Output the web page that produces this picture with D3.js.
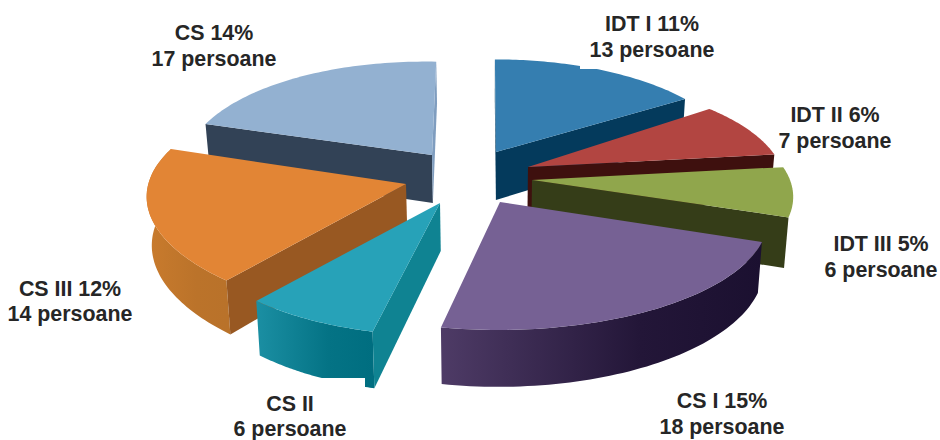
<!DOCTYPE html>
<html>
<head>
<meta charset="utf-8">
<script src="https://cdn.jsdelivr.net/npm/d3@7"></script>
<style>
  html, body { margin: 0; padding: 0; background: #fff; }
  svg { display: block; }
  text { font-family: "Liberation Sans", Arial, sans-serif; font-weight: bold; font-size: 21.4px; fill: #262626; text-anchor: middle; }
</style>
</head>
<body>
<svg id="chart" width="940" height="440"></svg>
<script>
// Staff counts per academic grade, clockwise from twelve o'clock.
const categories = ["IDT I", "IDT II", "IDT III", "CS I", "CS II", "CS III", "CS"];
const persons    = [13, 7, 6, 18, 6, 14, 17];
const percents   = [11, 6, 5, 15, null, 12, 14];

// Look of each wedge: top face, outer wall gradient (left, right), the two cut faces.
const topColors   = ["#357eb0", "#b24541", "#90a64c", "#766194", "#27a2b8", "#e28535", "#93b1d1"];
const wallLeft    = ["#043a5c", "#3e100e", "#353d18", "#4e3b66", "#1b8fa3", "#c97b2d", "#324256"];
const wallRight   = ["#043a5c", "#3e100e", "#353d18", "#1b1030", "#006e80", "#b9722a", "#324256"];
const cutStart    = ["#043a5c", "#3e100e", "#353d18", "#2a1b43", "#0f8392", "#985822", "#324256"];
const cutEnd      = ["#043a5c", "#3e100e", "#353d18", "#2a1b43", "#0f8392", "#985822", "#7f9dbf"];
const wallShown   = [false, false, false, true, true, true, false];

// Exploded placement of each wedge on the page: hub position, radii, twist (deg), shear, rim swell.
const hubX  = [496, 528, 532, 500, 440, 406, 432];
const hubY  = [152, 167, 180, 202, 203, 184, 155];
const radX  = [243, 253, 258, 265, 253, 250, 246];
const radY  = [107, 103, 106, 108, 112, 122, 108];
const twist = [-0.3, -6, -6, -5, -2.5, 3, 3];
const shear = [0, 0, 0, -1.5, 0, 25, 8];
const swell = [0, 0, 0, 0, 0, 0.04, 0];

const perspective = 0.156;   // how strongly the far edge of the disc shrinks
const thickness   = 48;      // height of the extruded disc
const vanishX     = 490;     // lower rim converges toward this column
const converge    = 0.015;

// Label centres and baselines (first line, second line).
const labelX  = [652, 835, 881, 722, 290, 70, 214];
const labelY1 = [31, 122, 251, 408, 411, 296, 40];
const labelY2 = [57, 148, 277, 434, 436, 321, 66];

// White boxes the two nearest labels sit in; they trim the wedges beneath them.
const labelBoxes = [
  { x: 580, y: 10, w: 145, h: 59 },
  { x: 225, y: 378, w: 140, h: 62 }
];

// Painter's order: far wedges first.
const drawOrder = [6, 0, 1, 2, 5, 4, 3];

const svg = d3.select("#chart");
const defs = svg.append("defs");

const arcs = d3.pie().sort(null).value(d => d)(persons);
const line = d3.line();

function projector(i, arc) {
  return function (theta, lowered) {
    const t = theta + twist[i] * Math.PI / 180;
    const u = (theta - arc.startAngle) / (arc.endAngle - arc.startAngle);
    const r = 1 + swell[i] * Math.sin(Math.PI * u);
    const s = Math.sin(t) * r, c = Math.cos(t) * r;
    const f = 1 / (1 + perspective * Math.cos(t));
    let x = hubX[i] + radX[i] * s * f - shear[i] * c * f;
    let y = hubY[i] - radY[i] * c * f;
    if (lowered) {
      x += (vanishX - x) * converge;
      y += thickness * f;
    }
    return [x, y];
  };
}

function hub(i, lowered) {
  let x = hubX[i], y = hubY[i];
  if (lowered) {
    x += (vanishX - x) * converge;
    y += thickness;
  }
  return [x, y];
}

function cross(a, b, p) {
  return (b[0] - a[0]) * (p[1] - a[1]) - (b[1] - a[1]) * (p[0] - a[0]);
}

drawOrder.forEach(i => {
  const arc = arcs[i];
  const project = projector(i, arc);
  const steps = d3.range(0, 61).map(k => arc.startAngle + (arc.endAngle - arc.startAngle) * k / 60);
  const rimTop = steps.map(t => project(t, false));
  const rimLow = steps.map(t => project(t, true));
  const g = svg.append("g").attr("class", "wedge").attr("data-name", categories[i]);

  // Outer wall with a soft left-to-right shade.
  if (wallShown[i]) {
    const xs = d3.extent(rimTop, p => p[0]);
    const gradId = "wall" + i;
    const grad = defs.append("linearGradient").attr("id", gradId)
      .attr("gradientUnits", "userSpaceOnUse")
      .attr("x1", xs[0]).attr("x2", xs[1]).attr("y1", 0).attr("y2", 0);
    grad.append("stop").attr("offset", 0).attr("stop-color", wallLeft[i]);
    grad.append("stop").attr("offset", 0.62).attr("stop-color", d3.interpolateRgb(wallLeft[i], wallRight[i])(0.85));
    grad.append("stop").attr("offset", 1).attr("stop-color", wallRight[i]);
    g.append("path")
      .attr("d", line(rimTop.concat(rimLow.slice().reverse())) + "Z")
      .attr("fill", `url(#${gradId})`);
  }

  // Radial cut faces, only those turned toward the viewer.
  const inner = rimTop[30];
  [[arc.startAngle, cutStart[i]], [arc.endAngle, cutEnd[i]]].forEach(([theta, color]) => {
    const A = hub(i, false), B = project(theta, false);
    const C = project(theta, true), D = hub(i, true);
    const lowMid = [(C[0] + D[0]) / 2, (C[1] + D[1]) / 2];
    if (cross(A, B, inner) * cross(A, B, lowMid) < 0) {
      g.append("path").attr("d", line([A, B, C, D]) + "Z").attr("fill", color);
    }
  });

  // Top face.
  g.append("path")
    .attr("d", line([hub(i, false)].concat(rimTop)) + "Z")
    .attr("fill", topColors[i]);
});

svg.selectAll("rect.label-box").data(labelBoxes).join("rect")
  .attr("class", "label-box")
  .attr("x", d => d.x).attr("y", d => d.y)
  .attr("width", d => d.w).attr("height", d => d.h)
  .attr("fill", "#fff");

categories.forEach((name, i) => {
  const first = percents[i] === null ? name : `${name} ${percents[i]}%`;
  svg.append("text").attr("x", labelX[i]).attr("y", labelY1[i]).text(first);
  svg.append("text").attr("x", labelX[i]).attr("y", labelY2[i]).text(`${persons[i]} persoane`);
});
</script>
</body>
</html>
